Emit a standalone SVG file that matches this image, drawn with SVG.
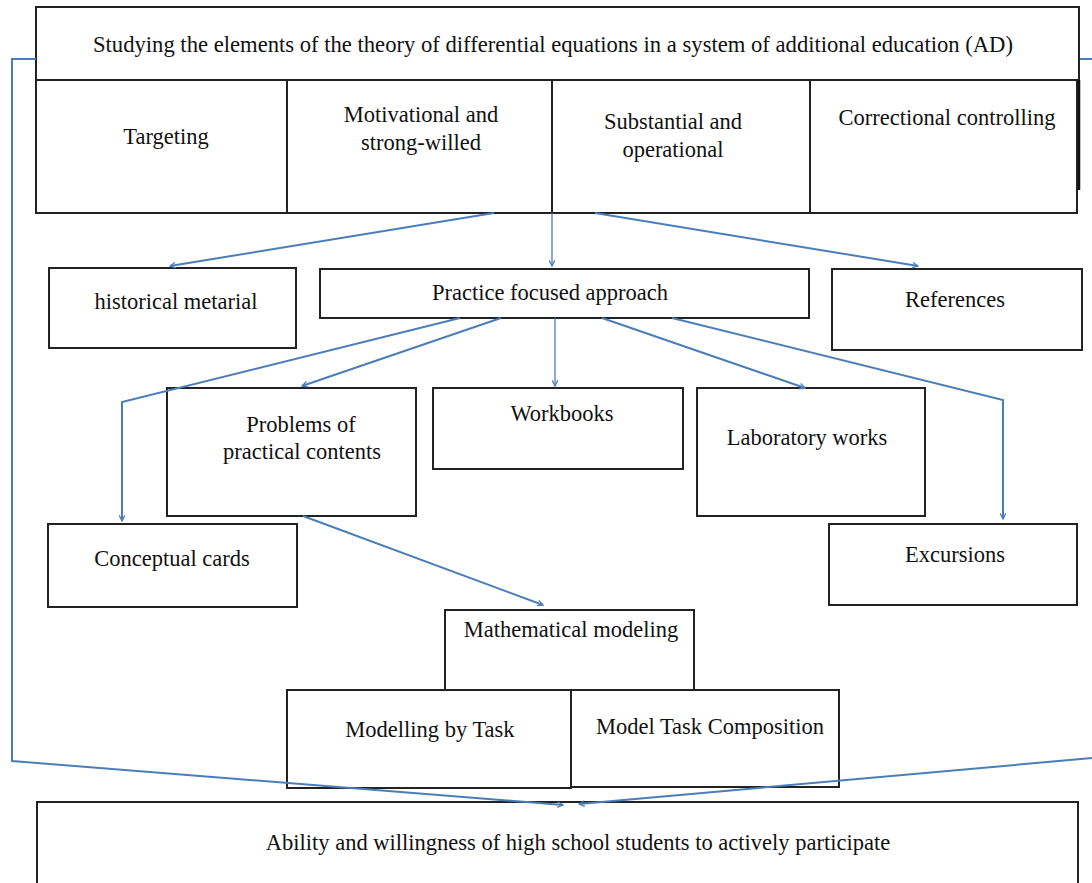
<svg xmlns="http://www.w3.org/2000/svg" width="1092" height="883" viewBox="0 0 1092 883">
<style>
.b{fill:#fff;stroke:#222;stroke-width:2}
.t{font-family:"Liberation Serif","Times New Roman",serif;font-size:22.5px;fill:#111;text-anchor:middle}
.c{fill:none;stroke:#4a7ebb;stroke-width:2}
.c1{fill:none;stroke:#4a7ebb;stroke-width:1.3}
</style>
<defs>
<marker id="a" viewBox="0 0 10 10" refX="9" refY="5" markerWidth="7" markerHeight="7" orient="auto" markerUnits="userSpaceOnUse">
<path d="M1,1 L9,5 L1,9" fill="none" stroke="#4a7ebb" stroke-width="1.8"/>
</marker>
</defs>
<rect width="1092" height="883" fill="#fff"/>
<g id="n-top">
<rect class="b" x="36" y="7" width="1043" height="73"/>
<text class="t" x="553" y="52" textLength="920" lengthAdjust="spacingAndGlyphs">Studying the elements of the theory of differential equations in a system of additional education (AD)</text>
</g>
<g id="n-targeting"><rect class="b" x="36" y="80" width="251" height="133"/><text class="t" x="166" y="144">Targeting</text></g>
<g id="n-motiv"><rect class="b" x="287" y="80" width="265" height="133"/><text class="t" x="421" y="122">Motivational and</text><text class="t" x="421" y="150">strong-willed</text></g>
<g id="n-subst"><rect class="b" x="552" y="80" width="258" height="133"/><text class="t" x="673" y="129">Substantial and</text><text class="t" x="673" y="157">operational</text></g>
<g id="n-correct"><rect class="b" x="810" y="80" width="267" height="133"/><line x1="1079" y1="80" x2="1079" y2="190" stroke="#111" stroke-width="2.5"/><text class="t" x="947" y="125">Correctional controlling</text></g>
<g id="n-hist"><rect class="b" x="49" y="268" width="247" height="80"/><text class="t" x="176" y="309">historical metarial</text></g>
<g id="n-practice"><rect class="b" x="320" y="269" width="489" height="49"/><text class="t" x="550" y="300">Practice focused approach</text></g>
<g id="n-refs"><rect class="b" x="832" y="269" width="250" height="81"/><text class="t" x="955" y="307">References</text></g>
<g id="n-problems"><rect class="b" x="167" y="388" width="249" height="128"/><text class="t" x="301" y="432">Problems of</text><text class="t" x="302" y="459">practical contents</text></g>
<g id="n-workbooks"><rect class="b" x="433" y="388" width="250" height="81"/><text class="t" x="562" y="421">Workbooks</text></g>
<g id="n-lab"><rect class="b" x="697" y="388" width="228" height="128"/><text class="t" x="807" y="445">Laboratory works</text></g>
<g id="n-cards"><rect class="b" x="48" y="524" width="249" height="83"/><text class="t" x="172" y="566">Conceptual cards</text></g>
<g id="n-excursions"><rect class="b" x="829" y="524" width="248" height="81"/><text class="t" x="955" y="562">Excursions</text></g>
<g id="n-math"><rect class="b" x="445" y="610" width="249" height="80"/><text class="t" x="571" y="637">Mathematical modeling</text></g>
<g id="n-mbt"><rect class="b" x="287" y="690" width="284" height="98"/><text class="t" x="430" y="737">Modelling by Task</text></g>
<g id="n-mtc"><rect class="b" x="571" y="690" width="268" height="97"/><text class="t" x="710" y="734">Model Task Composition</text></g>
<g id="n-ability"><rect class="b" x="37" y="802" width="1041" height="90"/><text class="t" x="578" y="850">Ability and willingness of high school students to actively participate</text></g>
<g id="connectors">
<polyline class="c" points="36,59 12,59 12,761 563,805" marker-end="url(#a)"/>
<polyline class="c" points="1080,59 1092,59"/>
<polyline class="c" points="1092,758 579,804" marker-end="url(#a)"/>
<line class="c" x1="494" y1="213" x2="170" y2="266" marker-end="url(#a)"/>
<line class="c1" x1="552" y1="213" x2="552" y2="266" marker-end="url(#a)"/>
<line class="c" x1="595" y1="213" x2="918" y2="266" marker-end="url(#a)"/>
<polyline class="c" points="460,318 122,402 122,521" marker-end="url(#a)"/>
<line class="c" x1="501" y1="318" x2="302" y2="386" marker-end="url(#a)"/>
<line class="c1" x1="555" y1="318" x2="555" y2="386" marker-end="url(#a)"/>
<line class="c" x1="602" y1="318" x2="805" y2="388" marker-end="url(#a)"/>
<polyline class="c" points="672,318 1003,400 1003,519" marker-end="url(#a)"/>
<line class="c" x1="303" y1="516" x2="543" y2="605" marker-end="url(#a)"/>
</g>
</svg>
